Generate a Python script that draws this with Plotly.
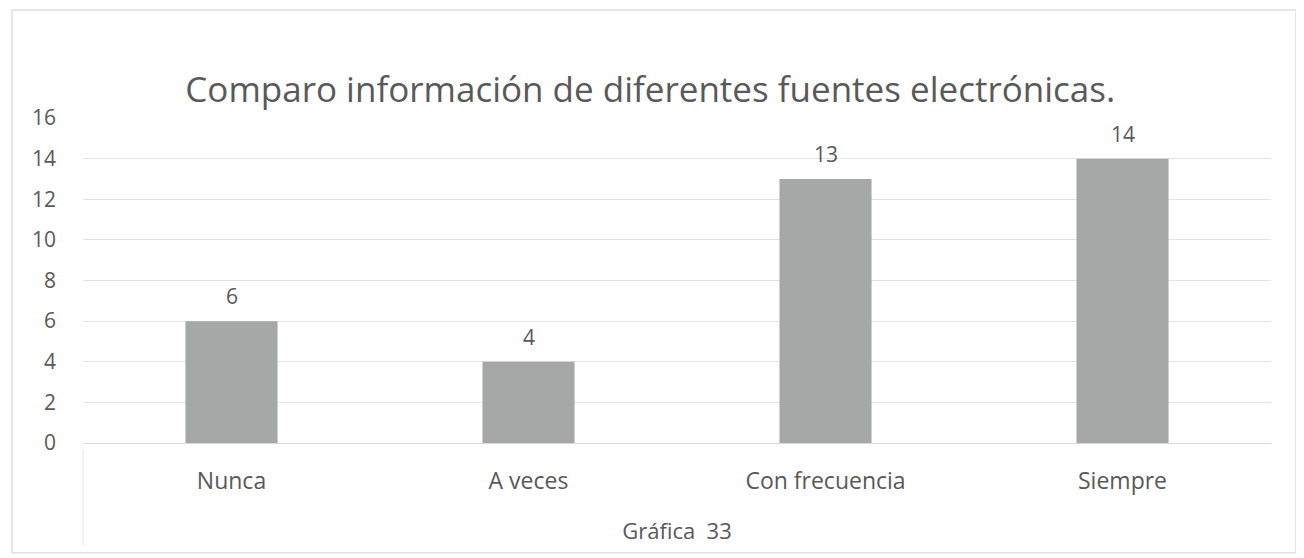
import plotly.graph_objects as go

categories = ["Nunca", "A veces", "Con frecuencia", "Siempre"]
values = [6, 4, 13, 14]
y_ticks = [0, 2, 4, 6, 8, 10, 12, 14, 16]

title_text = "Comparo información de diferentes fuentes electrónicas."
x_title = "Gráfica  33"

FONT = "Open Sans"
TXT = "#595959"

fig = go.Figure(
    go.Bar(
        x=categories,
        y=values,
        marker=dict(color="#a6a8a8", line=dict(width=0)),
        width=0.31,
        cliponaxis=False,
    )
)

annotations = [
    dict(x=c, y=v, xref="x", yref="y", text=str(v), showarrow=False,
         yanchor="middle", yshift=25, font=dict(family=FONT, size=21, color=TXT))
    for c, v in zip(categories, values)
]

fig.update_layout(
    width=1304,
    height=558,
    margin=dict(l=75, r=41, t=110, b=123),
    paper_bgcolor="white",
    plot_bgcolor="white",
    showlegend=False,
    title=dict(
        text=title_text,
        x=0.4925,
        xanchor="center",
        y=1 - 82 / 558,
        yanchor="middle",
        font=dict(family=FONT, size=35, color=TXT),
    ),
    xaxis=dict(
        showgrid=False,
        showline=False,
        ticks="",
        tickfont=dict(family=FONT, size=23, color=TXT),
        ticklabelstandoff=22,
        title=dict(text=x_title, font=dict(family=FONT, size=22, color=TXT), standoff=28),
    ),
    yaxis=dict(
        range=[0, 16],
        tickvals=y_ticks,
        showgrid=True,
        gridcolor="#e3e3e3",
        gridwidth=1,
        zeroline=True,
        zerolinecolor="#d9d9d9",
        zerolinewidth=1,
        showline=False,
        ticks="",
        tickfont=dict(family=FONT, size=21, color=TXT),
        ticklabelstandoff=26,
    ),
    annotations=annotations,
    shapes=[
        dict(type="rect", xref="paper", yref="paper", x0=-0.0598, x1=1.021, y0=-0.338, y1=1.332,
             line=dict(color="#e0e0e0", width=1.5), fillcolor="rgba(0,0,0,0)", layer="below"),
        dict(type="line", xref="paper", yref="paper", x0=0, x1=0, y0=-0.02, y1=-0.315,
             line=dict(color="#e6e6e6", width=1), layer="below"),
    ],
)

fig.write_html("out.html")
